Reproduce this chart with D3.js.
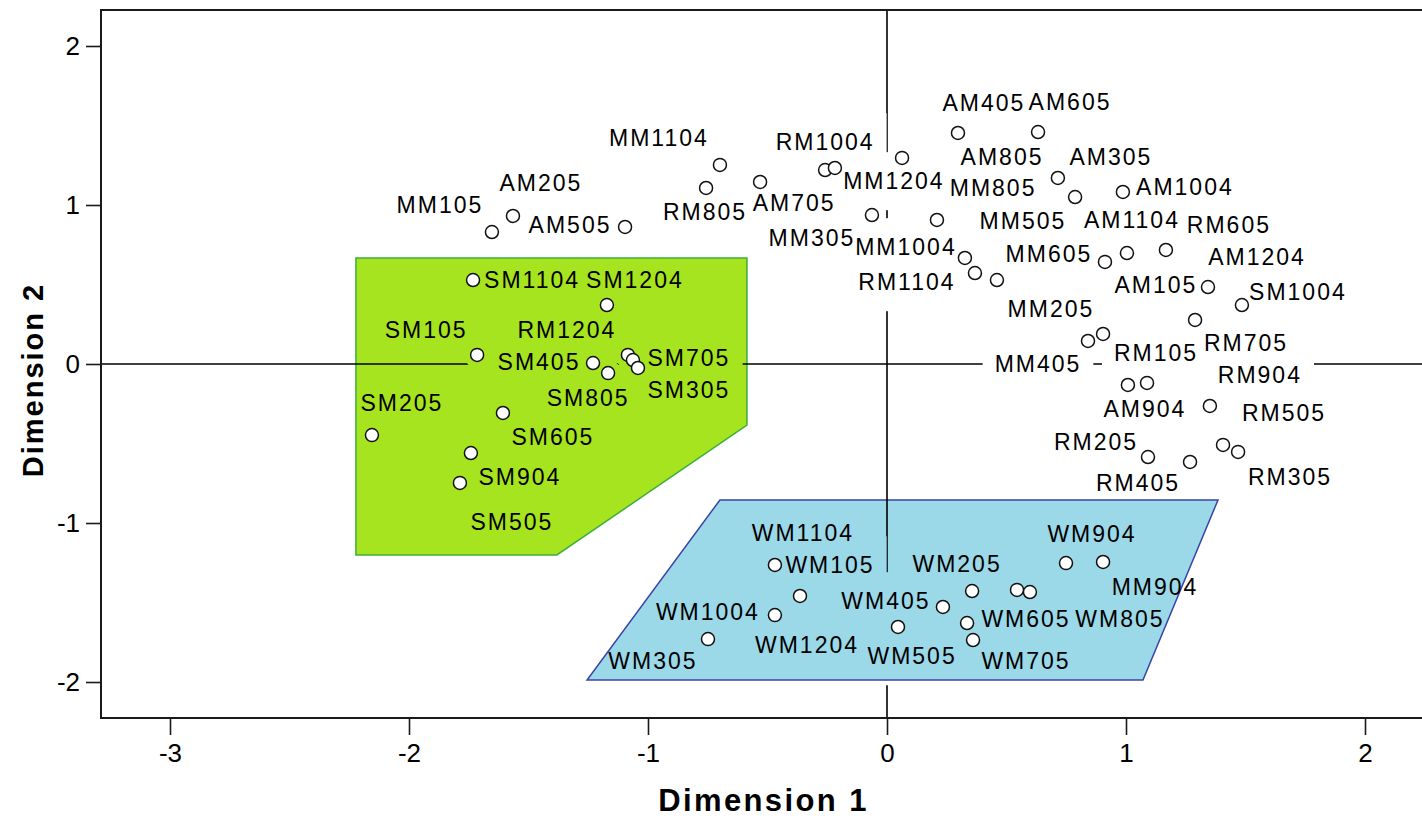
<!DOCTYPE html>
<html>
<head>
<meta charset="utf-8">
<script src="https://cdn.jsdelivr.net/npm/d3@7/dist/d3.min.js"></script>
<style>
  html, body { margin: 0; padding: 0; background: #fff; }
  svg { display: block; }
  .pt-label { font-family: "Liberation Sans", Arial, sans-serif; font-size: 23px; letter-spacing: 2px; fill: #000; }
  .tick text { font-family: "Liberation Sans", Arial, sans-serif; font-size: 26px; fill: #000; }
  .axis-title { font-family: "Liberation Sans", Arial, sans-serif; font-weight: bold; fill: #000; }
</style>
</head>
<body>
<svg id="chart" width="1422" height="818"></svg>
<script>
// Object points (stimulus × month) on the two-dimensional solution
const pointNames = [
  "MM105","AM205","AM505","MM1104","RM805","AM705","RM1004","MM1204","AM805","MM305",
  "MM1004","AM405","AM605","RM1104","MM505","MM205","AM305","MM805","AM1004","MM605",
  "AM1104","RM605","AM105","SM1004","RM705","MM405","RM105","AM904","AM1204","RM904",
  "RM505","RM305","RM205","RM405",
  "SM1104","SM1204","SM105","SM405","SM805","RM1204","SM705","SM305","SM205","SM605",
  "SM904","SM505",
  "WM1104","WM105","WM1004","WM305","WM1204","WM405","WM205","WM505","WM705","WM605",
  "WM805","WM904","MM904"
];
const dim1Values = [
  -1.653,-1.565,-1.096,-0.699,-0.757,-0.531,-0.259,-0.218, 0.063,-0.063,
   0.209, 0.297, 0.632, 0.326, 0.368, 0.460, 0.715, 0.787, 0.987, 0.912,
   1.004, 1.167, 1.343, 1.485, 1.289, 0.841, 0.904, 1.008, 1.088, 1.351,
   1.406, 1.469, 1.092, 1.268,
  -1.732,-1.172,-1.715,-1.230,-1.167,-1.084,-1.063,-1.042,-2.155,-1.607,
  -1.741,-1.787,
  -0.469,-0.364,-0.469,-0.749, 0.046, 0.234, 0.356, 0.335, 0.360, 0.544,
   0.598, 0.749, 0.904
];
const dim2Values = [
   0.830, 0.931, 0.862, 1.252, 1.107, 1.145, 1.220, 1.233, 1.296, 0.937,
   0.906, 1.453, 1.459, 0.667, 0.572, 0.528, 1.170, 1.050, 1.082, 0.642,
   0.698, 0.717, 0.484, 0.371, 0.277, 0.145, 0.189,-0.132,-0.119,-0.264,
  -0.509,-0.553,-0.585,-0.616,
   0.528, 0.371, 0.057, 0.006,-0.057, 0.057, 0.025,-0.025,-0.447,-0.308,
  -0.560,-0.748,
  -1.264,-1.459,-1.579,-1.730,-1.654,-1.528,-1.428,-1.629,-1.736,-1.421,
  -1.434,-1.252,-1.245
];

// Grouping regions (polygon outlines in solution coordinates)
const sMonthRegion = [[-2.222, 0.667], [-0.586, 0.667], [-0.586, -0.384], [-1.381, -1.201], [-2.222, -1.201]];
const wMonthRegion = [[-0.699, -0.855], [1.385, -0.855], [1.071, -1.987], [-1.255, -1.987]];

const xTickValues = [-3, -2, -1, 0, 1, 2];
const yTickValues = [-2, -1, 0, 1, 2];

// Label placement relative to each point, in pixels [dx, dy] to the label centre
const labelOffsets = {
  MM105:[-53,-27], AM205:[27,-33], AM505:[-56,-2], MM1104:[-62,-27], RM805:[-2,24],
  AM705:[33,21], RM1004:[-1,-28], MM1204:[58,13], AM805:[99,-1], MM305:[-61,23],
  MM1004:[-32,27], AM405:[25,-30], AM605:[31,-30], RM1104:[-59,24], MM505:[47,-52],
  MM205:[53,29], AM305:[52,-21], MM805:[-83,-9], AM1004:[61,-5], MM605:[-57,-8],
  AM1104:[4,-33], RM605:[62,-25], AM105:[-53,-2], SM1004:[55,-13], RM705:[50,23],
  MM405:[-51,23], RM105:[52,19], AM904:[16,24], AM1204:[109,-126], RM904:[49,-31],
  RM505:[60,-32], RM305:[51,25], RM205:[-53,-15], RM405:[-53,21],
  SM1104:[58,0], SM1204:[27,-25], SM105:[-52,-25], SM405:[-55,-1], SM805:[-21,25],
  RM1204:[-62,-25], SM705:[55,-2], SM305:[50,22], SM205:[29,-32], SM605:[49,24],
  SM904:[48,24], SM505:[51,39],
  WM1104:[27,-32], WM105:[29,-31], WM1004:[-68,-3], WM305:[-56,22], WM1204:[-92,18],
  WM405:[-58,-6], WM205:[-16,-27], WM505:[-56,33], WM705:[52,21], WM605:[8,29],
  WM805:[89,27], WM904:[25,-29], MM904:[51,25]
};

const points = pointNames.map((name, i) => ({ name, d1: dim1Values[i], d2: dim2Values[i] }));

const svg = d3.select("#chart");
const plot = { left: 101, top: 10, right: 1422, bottom: 718 };

const x = d3.scaleLinear().domain([-3.2887, 2.2385]).range([plot.left, plot.right]);
const y = d3.scaleLinear().domain([-2.2264, 2.2264]).range([plot.bottom, plot.top]);

// Regions
const line = d3.line().x(d => x(d[0])).y(d => y(d[1])).curve(d3.curveLinearClosed);
svg.append("path").attr("d", line(sMonthRegion))
  .attr("fill", "#a6e41f").attr("stroke", "#3cae3a").attr("stroke-width", 1.5);
svg.append("path").attr("d", line(wMonthRegion))
  .attr("fill", "#9bd8e8").attr("stroke", "#3a44a6").attr("stroke-width", 1.5);

// Reference lines, interrupted where labels and markers sit
const defs = svg.append("defs");
const mask = defs.append("mask").attr("id", "refMask").attr("maskUnits", "userSpaceOnUse")
  .attr("x", 0).attr("y", 0).attr("width", 1422).attr("height", 818);
mask.append("rect").attr("width", 1422).attr("height", 818).attr("fill", "#fff");

const refLines = svg.append("g").attr("mask", "url(#refMask)")
  .attr("stroke", "#000").attr("stroke-width", 1.6);
refLines.append("line").attr("x1", x(0)).attr("x2", x(0)).attr("y1", plot.top).attr("y2", plot.bottom);
refLines.append("line").attr("x1", plot.left).attr("x2", plot.right).attr("y1", y(0)).attr("y2", y(0));

// Frame
svg.append("path")
  .attr("d", `M${plot.right + 10},${plot.top}H${plot.left}V${plot.bottom}H${plot.right + 10}`)
  .attr("fill", "none").attr("stroke", "#1a1a1a").attr("stroke-width", 2);

// Axes
const yAxis = svg.append("g").attr("transform", `translate(${plot.left},0)`)
  .call(d3.axisLeft(y).tickValues(yTickValues).tickSize(15).tickPadding(6).tickFormat(d3.format("d")));
const xAxis = svg.append("g").attr("transform", `translate(0,${plot.bottom})`)
  .call(d3.axisBottom(x).tickValues(xTickValues).tickSize(17).tickPadding(9).tickFormat(d3.format("d")));
[yAxis, xAxis].forEach(g => {
  g.select(".domain").remove();
  g.selectAll(".tick line").attr("stroke", "#1a1a1a").attr("stroke-width", 1.6);
  g.attr("font-family", null).attr("font-size", null);
  g.selectAll(".tick text").text(d => d < 0 ? "-" + Math.abs(d) : String(d));
});

// Markers
svg.append("g").selectAll("circle").data(points).join("circle")
  .attr("cx", d => x(d.d1)).attr("cy", d => y(d.d2)).attr("r", 6.5)
  .attr("fill", "#fff").attr("stroke", "#111").attr("stroke-width", 1.5);

// Point labels
const fontSize = 23;
const labels = svg.append("g").selectAll("text").data(points).join("text")
  .attr("class", "pt-label")
  .attr("text-anchor", "middle")
  .attr("x", d => x(d.d1) + labelOffsets[d.name][0] + 1)
  .attr("y", d => y(d.d2) + labelOffsets[d.name][1] + fontSize * 0.358)
  .text(d => d.name);

// Mask out the reference lines under labels and markers
labels.each(function () {
  const b = this.getBBox();
  mask.append("rect")
    .attr("x", b.x - 12).attr("y", b.y - 16)
    .attr("width", b.width + 24).attr("height", b.height + 32)
    .attr("fill", "#000");
});
points.forEach(d => {
  mask.append("circle").attr("cx", x(d.d1)).attr("cy", y(d.d2)).attr("r", 13).attr("fill", "#000");
});

// Axis titles
svg.append("text").attr("class", "axis-title")
  .attr("x", (plot.left + plot.right) / 2 + 2).attr("y", 811)
  .attr("text-anchor", "middle").attr("font-size", 31).style("letter-spacing", "2.4px")
  .text("Dimension 1");
svg.append("text").attr("class", "axis-title")
  .attr("transform", "translate(43,380) rotate(-90)")
  .attr("text-anchor", "middle").attr("font-size", 29).style("letter-spacing", "2px")
  .text("Dimension 2");
</script>
</body>
</html>
